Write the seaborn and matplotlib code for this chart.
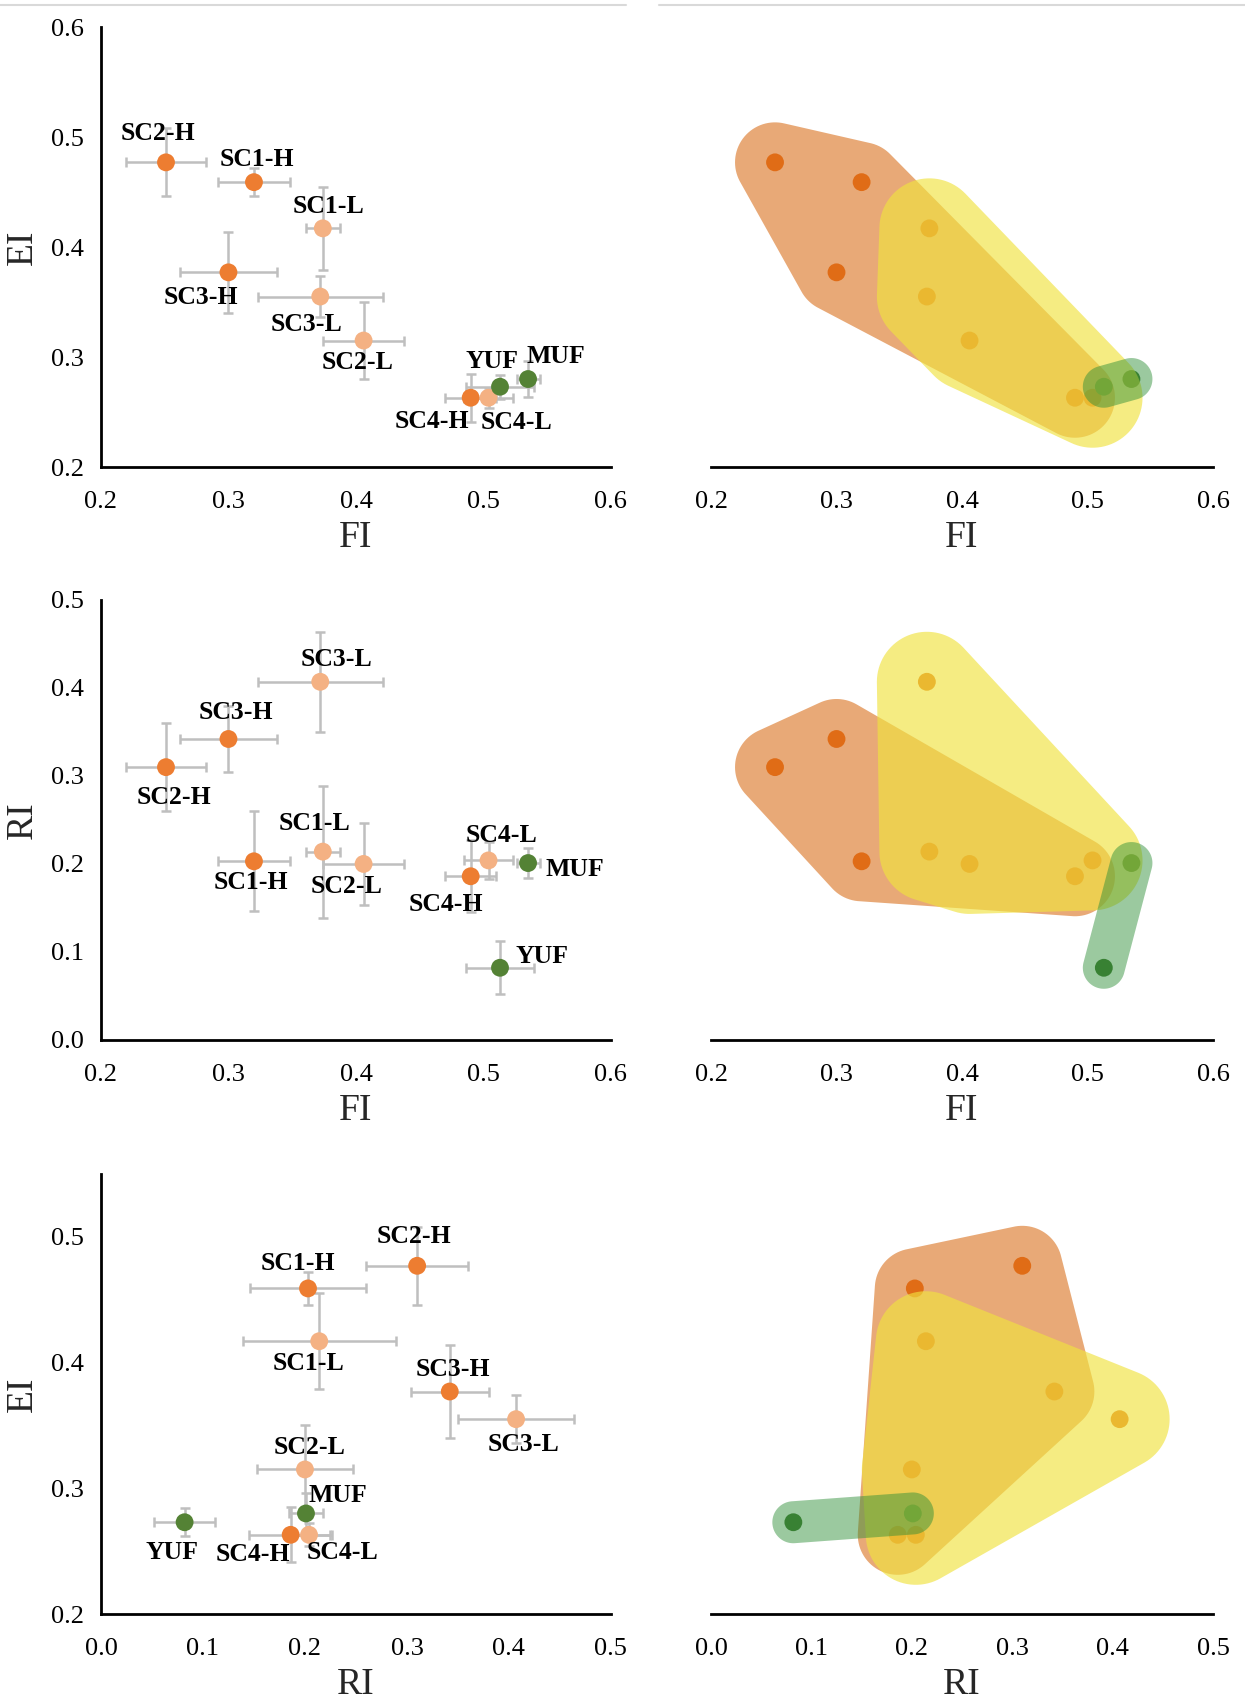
import numpy as np
import pandas as pd
import matplotlib
matplotlib.use("Agg")
import matplotlib.pyplot as plt
from matplotlib.lines import Line2D
import seaborn as sns

# ---------------- data ----------------
names = ["SC1-H", "SC2-H", "SC3-H", "SC4-H", "SC1-L", "SC2-L", "SC3-L", "SC4-L", "YUF", "MUF"]
groups = ["H", "H", "H", "H", "L", "L", "L", "L", "F", "F"]
FI = [0.320, 0.251, 0.300, 0.490, 0.374, 0.406, 0.372, 0.504, 0.513, 0.535]
EI = [0.459, 0.477, 0.377, 0.263, 0.417, 0.315, 0.355, 0.263, 0.273, 0.280]
RI = [0.203, 0.310, 0.342, 0.186, 0.214, 0.200, 0.407, 0.204, 0.082, 0.201]
FI_err = [0.028, 0.031, 0.038, 0.020, 0.0135, 0.032, 0.049, 0.019, 0.027, 0.009]
EI_err = [0.013, 0.031, 0.037, 0.022, 0.038, 0.035, 0.019, 0.009, 0.011, 0.016]
RI_err = [0.057, 0.050, 0.038, 0.041, 0.075, 0.047, 0.057, 0.021, 0.030, 0.017]

df = pd.DataFrame({"name": names, "group": groups, "FI": FI, "EI": EI, "RI": RI,
                   "FI_err": FI_err, "EI_err": EI_err, "RI_err": RI_err})

# label offsets (points) per panel, in order of names
offsets_p1 = [(2, 16), (-6, 21), (-20, -18), (-28, -17), (4, 16), (-4, -16), (-10, -20), (20, -18), (-6, 18), (20, 16)]
offsets_p2 = [(-2, -15), (6, -22), (5, 19), (-18, -20), (-6, 20), (-12, -16), (12, 16), (9, 18), (30, 8), (34, -5)]
offsets_p3 = [(-7, 18), (-2, 21), (2, 16), (-27, -14), (-8, -16), (3, 16), (5, -18), (24, -13), (-9, -22), (23, 13)]

panels = [
    dict(x="FI", y="EI", xlim=(0.2, 0.6), ylim=(0.2, 0.6), yticks=[0.2, 0.3, 0.4, 0.5, 0.6],
         xticks=[0.2, 0.3, 0.4, 0.5, 0.6], offs=offsets_p1),
    dict(x="FI", y="RI", xlim=(0.2, 0.6), ylim=(0.0, 0.5), yticks=[0.0, 0.1, 0.2, 0.3, 0.4, 0.5],
         xticks=[0.2, 0.3, 0.4, 0.5, 0.6], offs=offsets_p2),
    dict(x="RI", y="EI", xlim=(0.0, 0.5), ylim=(0.2, 0.55), yticks=[0.2, 0.3, 0.4, 0.5],
         xticks=[0.0, 0.1, 0.2, 0.3, 0.4, 0.5], offs=offsets_p3),
]

# ---------------- style ----------------
sns.set_theme(style="white")
plt.rcParams["font.family"] = ["Liberation Serif", "DejaVu Serif"]

left_palette = {"H": "#ED7D31", "L": "#F4B183", "F": "#548235"}
right_palette = {"H": "#E06C16", "L": "#E06C16", "F": "#43762F"}
blob_style = {"H": ("#E8A977", 1.0, 1, 40), "L": ("#F0E23F", 0.65, 3, 50), "F": ("#2E8E38", 0.48, 4, 21)}

TICK_FS = 19
LABEL_FS = 27
ANN_FS = 18.5
DOT = 165

fig = plt.figure(figsize=(12.45, 17.02), dpi=100)
bottoms = [0.7256, 0.389, 0.0517]
H = 0.2585


def convex_hull(points):
    pts = sorted(map(tuple, points))
    def cross(o, a, b):
        return (a[0] - o[0]) * (b[1] - o[1]) - (a[1] - o[1]) * (b[0] - o[0])
    lower = []
    for p in pts:
        while len(lower) >= 2 and cross(lower[-2], lower[-1], p) <= 0:
            lower.pop()
        lower.append(p)
    upper = []
    for p in reversed(pts):
        while len(upper) >= 2 and cross(upper[-2], upper[-1], p) <= 0:
            upper.pop()
        upper.append(p)
    return np.array(lower[:-1] + upper[:-1])


def blob(ax, xs, ys, r, color, alpha, z):
    disp = ax.transData.transform(np.column_stack([xs, ys]))
    th = np.linspace(0, 2 * np.pi, 90, endpoint=False)
    circ = np.column_stack([np.cos(th), np.sin(th)]) * r
    allp = (disp[:, None, :] + circ[None, :, :]).reshape(-1, 2)
    h = convex_hull(allp)
    d = ax.transData.inverted().transform(h)
    ax.fill(d[:, 0], d[:, 1], color=color, alpha=alpha, lw=0, zorder=z)


def style_axis(ax, p, show_y):
    ax.set_xlim(*p["xlim"])
    ax.set_ylim(*p["ylim"])
    ax.set_xticks(p["xticks"])
    ax.set_xticklabels([f"{v:.1f}" for v in p["xticks"]], fontsize=TICK_FS)
    for s in ["top", "right"]:
        ax.spines[s].set_visible(False)
    ax.spines["bottom"].set_color("black")
    ax.spines["bottom"].set_linewidth(2.0)
    ax.tick_params(axis="x", length=0, pad=17, colors="black")
    ax.tick_params(axis="y", length=0, pad=12, colors="black")
    ax.set_xlabel(p["x"], fontsize=LABEL_FS, labelpad=6)
    if show_y:
        ax.spines["left"].set_color("black")
        ax.spines["left"].set_linewidth(2.0)
        ax.set_yticks(p["yticks"])
        ax.set_yticklabels([f"{v:.1f}" for v in p["yticks"]], fontsize=TICK_FS)
        ax.set_ylabel(p["y"], fontsize=LABEL_FS, labelpad=8)
    else:
        ax.spines["left"].set_visible(False)
        ax.set_yticks([])
        ax.set_ylabel("")
    ax.set_facecolor("white")


for i, p in enumerate(panels):
    xcol, ycol = p["x"], p["y"]
    # ---- left panel ----
    axl = fig.add_axes([0.0811, bottoms[i], 0.4096, H])
    axl.errorbar(df[xcol], df[ycol], xerr=df[xcol + "_err"], yerr=df[ycol + "_err"],
                 fmt="none", ecolor="#BFBFBF", elinewidth=1.8, capsize=3.5, capthick=1.8, zorder=1)
    sns.scatterplot(data=df, x=xcol, y=ycol, hue="group", palette=left_palette, s=DOT,
                    linewidth=0, legend=False, ax=axl, zorder=3)
    for j, nm in enumerate(names):
        axl.annotate(nm, (df[xcol][j], df[ycol][j]), xytext=p["offs"][j], textcoords="offset points",
                     ha="center", va="center", fontsize=ANN_FS, fontweight="bold", color="black", zorder=4)
    style_axis(axl, p, True)

    # ---- right panel ----
    axr = fig.add_axes([0.5711, bottoms[i], 0.4032, H])
    style_axis(axr, p, False)
    sns.scatterplot(data=df, x=xcol, y=ycol, hue="group", palette=right_palette, s=DOT,
                    linewidth=0, legend=False, ax=axr, zorder=2)
    style_axis(axr, p, False)
    for g in ["H", "L", "F"]:
        sub = df[df["group"] == g]
        col, a, z, r = blob_style[g]
        blob(axr, sub[xcol].values, sub[ycol].values, r, col, a, z)

# faint separator lines at the top
fig.add_artist(Line2D([0.0, 0.503], [0.997, 0.997], color="#D9D9D9", lw=1.5))
fig.add_artist(Line2D([0.529, 1.0], [0.997, 0.997], color="#D9D9D9", lw=1.5))

fig.savefig("out.png", dpi=100, facecolor="white")
